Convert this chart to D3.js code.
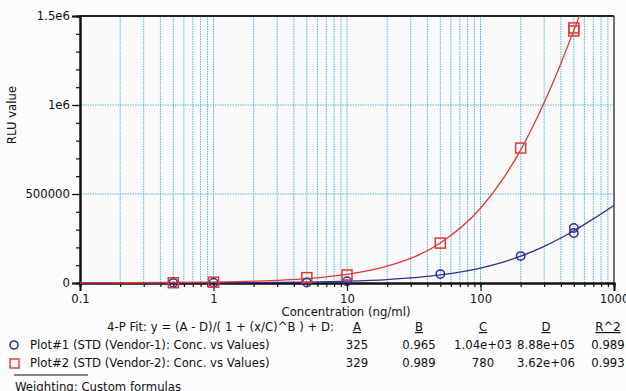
<!DOCTYPE html>
<html>
<head>
<meta charset="utf-8">
<script src="https://cdn.jsdelivr.net/npm/d3@7"></script>
<style>
  body { margin: 0; background: #fcfcfc; }
  svg { display: block; font-family: "DejaVu Sans", Verdana, sans-serif; }
  .lbl { font-size: 11.7px; fill: #111; }
</style>
</head>
<body>
<div id="chart"></div>
<script>
// tick values / labels
var xTicks = [0.1, 1, 10, 100, 1000]
var xTickLabels = ["0.1", "1", "10", "100", "1000"]
var yTicks = [0, 500000, 1000000, 1500000]
var yTickLabels = ["0", "500000", "1e6", "1.5e6"]

var conc1 = [0.5, 1, 5, 10, 50, 200, 500, 500]
var rlu1 = [800, 1500, 3000, 10000, 50000, 151000, 281000, 309000]
var conc2 = [0.5, 1, 5, 10, 50, 200, 500, 500]
var rlu2 = [1500, 4500, 30000, 45000, 224000, 758000, 1416000, 1433000]

// fitted curves
var fitX1 = [0.1, 0.2, 0.5, 1, 2, 5, 10, 20, 50, 100, 150, 200, 300, 400, 500, 700, 1000]
var fitY1 = [443, 555, 881, 1413, 2444, 5438, 10252, 19510, 45365, 84165, 119055, 150550, 205875, 252805, 293605, 360375, 435805]
var fitX2 = [0.1, 0.2, 0.5, 1, 2, 5, 10, 20, 50, 100, 150, 200, 300, 400, 500, 550, 600]
var fitY2 = [841, 1346, 2843, 5318, 10217, 24695, 48509, 94459, 224749, 420129, 593200, 747949, 1013889, 1233100, 1419029, 1500000, 1576600]

// fit table
var fitHeaders = ["A", "B", "C", "D", "R^2"]
var fitRow1 = ["325", "0.965", "1.04e+03", "8.88e+05", "0.989"]
var fitRow2 = ["329", "0.989", "780", "3.62e+06", "0.993"]
var legendNames = ["Plot#1 (STD (Vendor-1): Conc. vs Values)", "Plot#2 (STD (Vendor-2): Conc. vs Values)"]

var width = 626, height = 391
var pLeft = 80, pRight = 614, pTop = 16, pBottom = 283
var blue = "#2e2e96", red = "#dd3a33", grid = "#4fb3e0"

var svg = d3.select("#chart").append("svg")
    .attr("width", width)
    .attr("height", height)

var x = d3.scaleLog().domain([0.1, 1000]).range([pLeft, pRight])
var y = d3.scaleLinear().domain([0, 1500000]).range([pBottom, pTop])

// plot background
svg.append("rect")
    .attr("x", pLeft).attr("y", pTop)
    .attr("width", pRight - pLeft).attr("height", pBottom - pTop)
    .attr("fill", "#fafafa")

// grid: every decade value vertically, majors horizontally
var minorX = []
for (var e = -1; e < 3; e++) {
  for (var k = 1; k < 10; k++) minorX.push(k * Math.pow(10, e))
}
minorX.push(1000)

svg.append("g").selectAll("line")
  .data(minorX.filter(function(d) { return d > 0.1 && d < 1000 }))
  .join("line")
    .attr("x1", function(d) { return x(d) }).attr("x2", function(d) { return x(d) })
    .attr("y1", pTop).attr("y2", pBottom)
    .attr("stroke", grid).attr("stroke-width", 1)
    .attr("stroke-dasharray", "1.5,1")

svg.append("g").selectAll("line")
  .data(yTicks.filter(function(d) { return d > 0 && d < 1500000 }))
  .join("line")
    .attr("x1", pLeft).attr("x2", pRight)
    .attr("y1", function(d) { return y(d) }).attr("y2", function(d) { return y(d) })
    .attr("stroke", grid).attr("stroke-width", 1)
    .attr("stroke-dasharray", "1.5,1")

// frame top/right
svg.append("line").attr("x1", pLeft).attr("x2", pRight).attr("y1", pTop).attr("y2", pTop)
    .attr("stroke", "#222").attr("stroke-width", 2)
svg.append("line").attr("x1", pRight).attr("x2", pRight).attr("y1", pTop).attr("y2", pBottom)
    .attr("stroke", "#444").attr("stroke-width", 1.5)

// x axis
var xAxisG = svg.append("g").attr("transform", "translate(0," + pBottom + ")")
xAxisG.call(d3.axisBottom(x).tickValues(minorX).tickSize(4).tickFormat(""))
xAxisG.append("g").call(d3.axisBottom(x).tickValues(xTicks).tickSize(8)
    .tickFormat(function(d, i) { return xTickLabels[i] }))
xAxisG.selectAll(".domain").attr("stroke", "#111").attr("stroke-width", 2)
xAxisG.selectAll(".tick line").attr("stroke", "#111").attr("stroke-width", 1.2)
xAxisG.selectAll(".tick text").attr("class", "lbl").attr("dy", "0.78em")
xAxisG.selectAll("g").attr("font-family", null).attr("font-size", null)
xAxisG.attr("font-family", null).attr("font-size", null)

// y axis
var yMinor = d3.range(0, 1500001, 100000)
var yAxisG = svg.append("g").attr("transform", "translate(" + pLeft + ",0)")
yAxisG.call(d3.axisLeft(y).tickValues(yMinor).tickSize(4).tickFormat(""))
yAxisG.append("g").call(d3.axisLeft(y).tickValues(yTicks).tickSize(8)
    .tickFormat(function(d, i) { return yTickLabels[i] }))
yAxisG.selectAll(".domain").attr("stroke", "#111").attr("stroke-width", 2)
yAxisG.selectAll(".tick line").attr("stroke", "#111").attr("stroke-width", 1.2)
yAxisG.selectAll(".tick text").attr("class", "lbl").attr("x", -10)
yAxisG.selectAll("g").attr("font-family", null).attr("font-size", null)
yAxisG.attr("font-family", null).attr("font-size", null)

// axis titles
svg.append("text").attr("class", "lbl")
    .attr("text-anchor", "middle")
    .attr("transform", "translate(16,115)rotate(-90)")
    .text("RLU value")
svg.append("text").attr("class", "lbl")
    .attr("text-anchor", "middle")
    .attr("x", 346).attr("y", 316)
    .text("Concentration (ng/ml)")

// clip for curves
svg.append("clipPath").attr("id", "plotclip")
  .append("rect").attr("x", pLeft).attr("y", pTop)
    .attr("width", pRight - pLeft).attr("height", pBottom - pTop + 2)

var line = d3.line()
    .x(function(d) { return x(d[0]) })
    .y(function(d) { return y(d[1]) })
    .curve(d3.curveMonotoneX)

var plotG = svg.append("g").attr("clip-path", "url(#plotclip)")

plotG.append("path")
    .attr("d", line(d3.zip(fitX1, fitY1)))
    .attr("fill", "none").attr("stroke", blue).attr("stroke-width", 1.3)
plotG.append("path")
    .attr("d", line(d3.zip(fitX2, fitY2)))
    .attr("fill", "none").attr("stroke", red).attr("stroke-width", 1.3)

// markers
svg.append("g").selectAll("circle")
  .data(d3.zip(conc1, rlu1))
  .join("circle")
    .attr("cx", function(d) { return x(d[0]) })
    .attr("cy", function(d) { return y(d[1]) })
    .attr("r", 4.2)
    .attr("fill", "none").attr("stroke", blue).attr("stroke-width", 1.5)

svg.append("g").selectAll("rect")
  .data(d3.zip(conc2, rlu2))
  .join("rect")
    .attr("x", function(d) { return x(d[0]) - 5 })
    .attr("y", function(d) { return y(d[1]) - 5 })
    .attr("width", 10).attr("height", 10)
    .attr("fill", "none").attr("stroke", red).attr("stroke-width", 1.5)

// fit table
svg.append("text").attr("class", "lbl")
    .attr("x", 107).attr("y", 331)
    .text("4-P Fit: y = (A - D)/( 1 + (x/C)^B ) + D:")

var colX = [357, 419, 483, 546, 608]
svg.append("g").selectAll("text")
  .data(fitHeaders)
  .join("text").attr("class", "lbl")
    .attr("x", function(d, i) { return colX[i] })
    .attr("y", 331)
    .attr("text-anchor", "middle")
    .style("text-decoration", "underline")
    .text(function(d) { return d })

var rows = [fitRow1, fitRow2]
rows.forEach(function(row, r) {
  svg.append("g").selectAll("text")
    .data(row)
    .join("text").attr("class", "lbl")
      .attr("x", function(d, i) { return colX[i] })
      .attr("y", 349 + r * 18)
      .attr("text-anchor", "middle")
      .text(function(d) { return d })
})

// legend
svg.append("circle").attr("cx", 14).attr("cy", 345).attr("r", 4)
    .attr("fill", "none").attr("stroke", blue).attr("stroke-width", 1.6)
svg.append("rect").attr("x", 10).attr("y", 359).attr("width", 9).attr("height", 9)
    .attr("fill", "none").attr("stroke", red).attr("stroke-width", 1.4)
legendNames.forEach(function(name, i) {
  svg.append("text").attr("class", "lbl")
      .attr("x", 30).attr("y", 349 + i * 18)
      .text(name)
})

svg.append("line").attr("x1", 14).attr("x2", 88).attr("y1", 375).attr("y2", 375)
    .attr("stroke", "#111").attr("stroke-width", 1)
svg.append("text").attr("class", "lbl")
    .attr("x", 15).attr("y", 391)
    .text("Weighting: Custom formulas")
</script>
</body>
</html>
